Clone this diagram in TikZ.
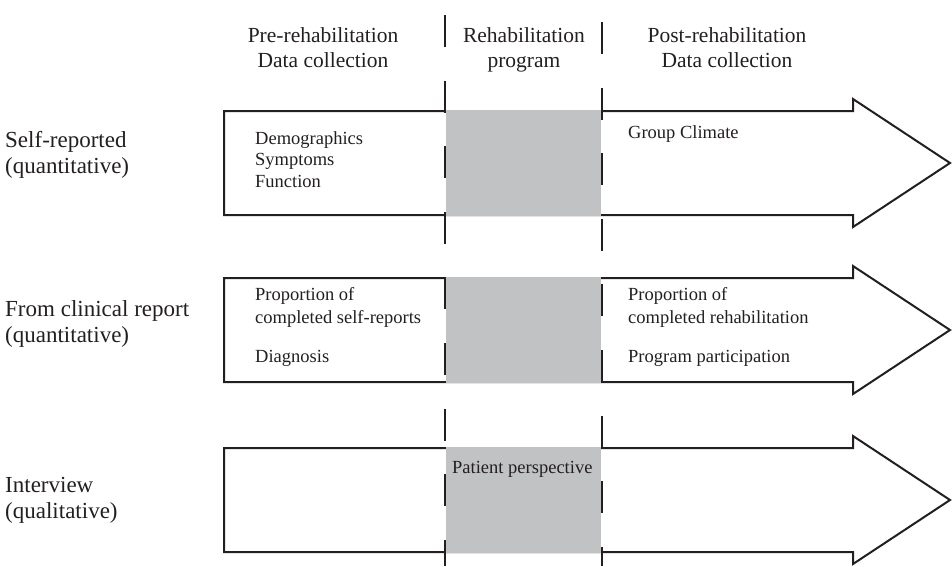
\documentclass[tikz,border=0pt]{standalone}
\usepackage{fontspec}
\setmainfont{Liberation Serif}
\newcommand{\HeadFont}{\fontsize{21.5}{25}\selectfont}
\newcommand{\RowFont}{\fontsize{23}{26}\selectfont}
\newcommand{\ItemFont}{\fontsize{18.5}{21.5}\selectfont}
\definecolor{programgray}{HTML}{C1C2C4}
\definecolor{inkblack}{HTML}{231F20}
\newcommand{\Track}[1]{%
  \draw[trackline] (224,#1) -- (853,#1) -- (853,{#1-12}) -- (950,{#1+52}) -- (853,{#1+116}) -- (853,{#1+104}) -- (224,{#1+104}) -- cycle;
  \fill[programgray] (446,{#1-1}) rectangle (601,{#1+105});
}

\begin{document}
\begin{tikzpicture}[x=1pt,y=-1pt,text=inkblack,
  trackline/.style={draw=inkblack,line width=2pt,line join=miter},
  phaseline/.style={draw=inkblack,line width=2.6pt,dash pattern=on 32pt off 33.6pt},
  headtext/.style={font=\HeadFont,align=center,anchor=base,inner sep=0pt},
  rowtext/.style={font=\RowFont,align=left,anchor=base west,inner sep=0pt},
  itemtext/.style={font=\ItemFont,align=left,anchor=base west,inner sep=0pt}]
  \useasboundingbox (0,0) rectangle (952,566);
  \Track{111}
  \Track{278}
  \Track{448}
  \draw[phaseline] (445,15) -- (445,566);
  \draw[phaseline] (602,22) -- (602,566);
  \node[headtext] (hdrpre) at (323,67) {Pre-rehabilitation\\Data collection};
  \node[headtext] (hdrrehab) at (524,67) {Rehabilitation\\program};
  \node[headtext] (hdrpost) at (727,67) {Post-rehabilitation\\Data collection};
  \node[rowtext] (lblself) at (5,173) {Self-reported\\(quantitative)};
  \node[rowtext] (lblclin) at (5,342) {From clinical report\\(quantitative)};
  \node[rowtext] (lblint) at (5,518) {Interview\\(qualitative)};
  \node[itemtext] (txtdemo) at (255,187) {Demographics\\Symptoms\\Function};
  \node[itemtext] (txtclimate) at (628,138) {Group Climate};
  \node[itemtext,font=\fontsize{18.5}{23}\selectfont] (txtpropself) at (255,323) {Proportion of\\completed self-reports};
  \node[itemtext] (txtdiag) at (255,362) {Diagnosis};
  \node[itemtext,font=\fontsize{18.5}{23}\selectfont] (txtproprehab) at (628,323) {Proportion of\\completed rehabilitation};
  \node[itemtext] (txtpart) at (628,362) {Program participation};
  \node[itemtext] (txtpatient) at (452,473) {Patient perspective};
\end{tikzpicture}
\end{document}
